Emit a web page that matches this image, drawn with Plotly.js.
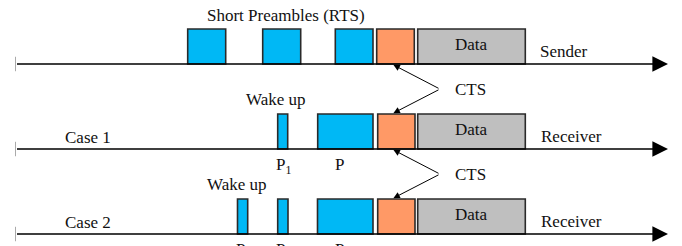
<!DOCTYPE html>
<html>
<head>
<meta charset="utf-8">
<script src="https://cdn.plot.ly/plotly-3.0.1.min.js"></script>
<style>html,body{margin:0;padding:0;background:#fff}#chart{width:682px;height:246px}</style>
</head>
<body>
<div id="chart"></div>
<script>
// ---- data (time units along the x axis) ----
const rowNames = ['Sender', 'Receiver', 'Receiver'];
const caseLabels = ['', 'Case 1', 'Case 2'];
const preambleStart = [[187.7, 262.7, 335.3], [277.7, 317.7], [237.5, 277.7, 317.5]];
const preambleEnd   = [[225.7, 300.7, 373.0], [287.7, 373.0], [247.7, 288.0, 373.0]];
const preambleLabels = [[], ['P<sub>1</sub>', 'P'], ['P<sub>2</sub>', 'P<sub>1</sub>', 'P']];
const ctsStart  = [376.7, 377.7, 377.7];
const ctsEnd    = [414.3, 415.0, 415.0];
const dataStart = [417.7, 417.7, 417.7];
const dataEnd   = [525.3, 525.3, 525.3];
const timeStart = 15.5;
const timeEnd = 668;
const wakeLabel = 'Wake up';
const topTitle = 'Short Preambles (RTS)';
const ctsLabel = 'CTS';
const dataLabel = 'Data';

// ---- styles ----
const FONT = '"Liberation Serif", "Times New Roman", Times, serif';
const BLUE = '#00B8F5', ORANGE = '#FF9966', GRAY = '#BFBFBF', EDGE = '#2a2a2a';
const H = 0.412; // block height in row units
const shapes = [];
const ann = [];
function box(x0, x1, r, color) {
  shapes.push({type: 'rect', xref: 'x', yref: 'y', x0: x0, x1: x1, y0: r, y1: r - H,
    fillcolor: color, line: {color: EDGE, width: 1.6}, layer: 'above'});
}
function txt(t, x, y, extra) {
  ann.push(Object.assign({text: t, x: x, y: y, xref: 'x', yref: 'y', showarrow: false,
    font: {family: FONT, size: 17, color: '#111'}, xanchor: 'center', yanchor: 'middle'}, extra || {}));
}

rowNames.forEach((name, r) => {
  // time axis line with arrow
  ann.push({x: timeEnd, y: r, ax: timeStart, ay: r, xref: 'x', yref: 'y', axref: 'x', ayref: 'y',
    text: '', showarrow: true, arrowhead: 2, arrowsize: 2.4, arrowwidth: 1.3, arrowcolor: '#000'});
  shapes.push({type: 'line', xref: 'x', yref: 'y', x0: timeStart, x1: timeStart, y0: r - 0.085, y1: r + 0.085,
    line: {color: '#aaaaaa', width: 1}});
  preambleStart[r].forEach((s, i) => {
    const e = preambleEnd[r][i];
    box(s, e, r, BLUE);
    const lbl = preambleLabels[r][i];
    if (lbl) {
      const w = e - s;
      txt(lbl, w > 20 ? s + 22 : s + w / 2 + 1, r + 0.05,
        {yanchor: 'top', font: {family: FONT, size: 17, color: '#111'}});
    }
  });
  box(ctsStart[r], ctsEnd[r], r, ORANGE);
  box(dataStart[r], dataEnd[r], r, GRAY);
  txt(dataLabel, (dataStart[r] + dataEnd[r]) / 2, r - 0.235);
  txt(name, (dataEnd[r] + 15 + (name === 'Sender' ? 24 : 31)), r - 0.145);
  if (caseLabels[r]) txt(caseLabels[r], 88, r - 0.13);
  if (r > 0) {
    // wake-up label above the first preamble that is heard
    const s0 = preambleStart[r][0];
    txt(wakeLabel, s0 + (r === 1 ? -1.7 : -1), r - 0.58);
    // CTS arrows between this row and the previous one
    const mid = (ctsStart[r] + ctsEnd[r]) / 2 - 3;
    const ya = r - 0.705;
    ann.push({x: mid, y: r - 1 + 0.01, ax: 440, ay: ya, xref: 'x', yref: 'y', axref: 'x', ayref: 'y',
      text: '', showarrow: true, arrowhead: 2, arrowsize: 1.3, arrowwidth: 1, arrowcolor: '#000'});
    ann.push({x: mid, y: r - H - 0.01, ax: 440, ay: ya, xref: 'x', yref: 'y', axref: 'x', ayref: 'y',
      text: '', showarrow: true, arrowhead: 2, arrowsize: 1.3, arrowwidth: 1, arrowcolor: '#000'});
    txt(ctsLabel, 470, ya);
  }
});
txt(topTitle, 286, -0.575);

const layout = {
  width: 682, height: 246,
  margin: {l: 0, r: 0, t: 0, b: 0},
  paper_bgcolor: '#fff', plot_bgcolor: '#fff',
  showlegend: false,
  font: {family: FONT},
  xaxis: {range: [0, 682], visible: false, fixedrange: true},
  yaxis: {range: [2.141, -0.753], visible: false, fixedrange: true},
  shapes: shapes, annotations: ann
};
Plotly.newPlot('chart', [{x: [0], y: [0], mode: 'markers', marker: {opacity: 0}, hoverinfo: 'skip'}], layout,
  {staticPlot: true, displayModeBar: false});
</script>
</body>
</html>
